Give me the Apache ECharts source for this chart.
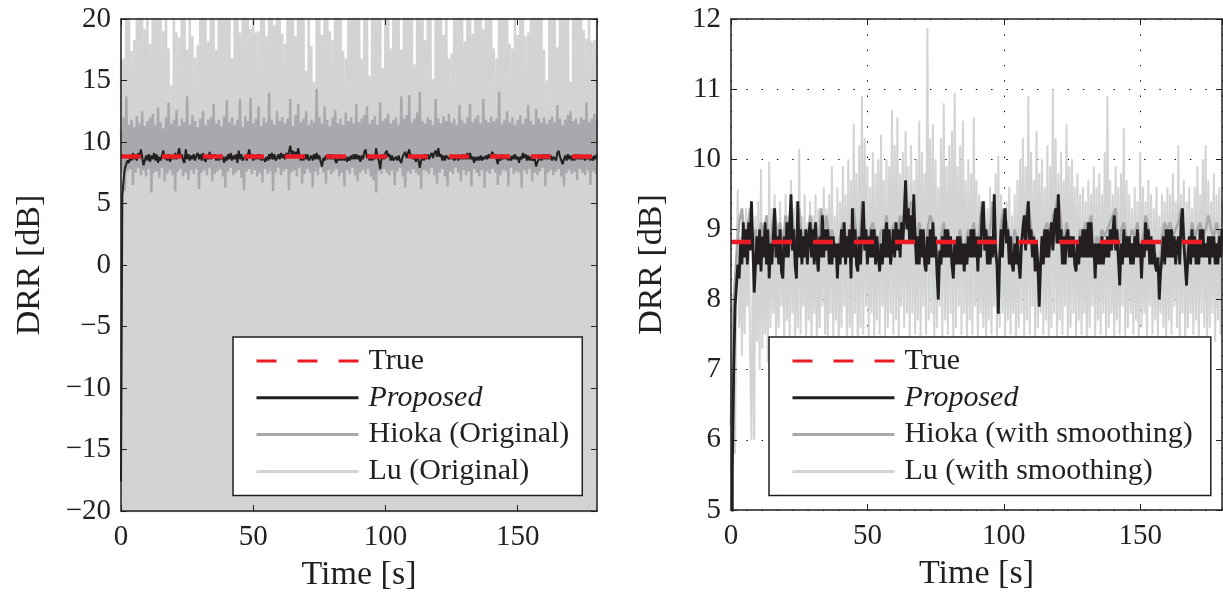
<!DOCTYPE html>
<html><head><meta charset="utf-8">
<script src="https://cdn.jsdelivr.net/npm/echarts@6/dist/echarts.min.js"></script>
<style>html,body{margin:0;padding:0;background:#fff}#c{width:1223px;height:595px}</style>
</head><body><div id="c"></div>
<script>
// ---------- data ----------
const xTickValues = [0, 50, 100, 150];
const trueDrr = 8.82;
const legendLeft = ['True', 'Proposed', 'Hioka (Original)', 'Lu (Original)'];
const legendRight = ['True', 'Proposed', 'Hioka (with smoothing)', 'Lu (with smoothing)'];

// Proposed estimate, one value every 0.5 s (t = 0 ... 180)
const proposed = [
-17.6,5.6,7.0,7.9,8.2,8.5,8.3,8.8,8.5,9.1,
8.6,9.0,8.5,9.1,8.7,9.4,8.8,8.1,8.5,8.9,
8.5,9.0,8.4,8.9,8.6,9.1,8.5,9.0,8.3,8.8,
8.5,8.9,9.3,8.6,8.9,8.5,9.0,8.4,8.3,8.9,
8.6,9.1,8.6,9.0,9.5,8.7,9.0,8.5,8.3,9.4,
8.6,9.0,8.5,8.9,8.6,9.0,8.5,8.9,9.1,8.6,
9.0,8.5,9.1,8.6,8.4,8.9,8.6,9.2,8.6,9.0,
8.7,9.0,8.5,8.9,8.5,8.9,8.6,8.8,8.3,8.8,
8.5,9.0,8.6,9.1,8.5,8.9,8.6,9.0,8.3,9.3,
8.6,9.0,8.5,8.4,8.9,8.5,9.0,9.4,8.7,9.0,
8.5,8.9,8.6,9.0,8.6,9.0,8.5,8.9,8.6,8.4,
8.8,8.5,9.0,8.6,9.1,8.6,9.0,8.5,8.7,9.0,
8.6,9.1,8.7,9.0,8.6,9.1,8.8,9.2,9.7,9.0,
9.3,8.8,9.2,8.8,9.5,8.9,8.5,8.9,8.5,9.0,
8.6,9.0,8.5,8.4,8.9,8.5,9.0,8.6,9.1,8.6,
8.9,8.4,8.0,8.7,8.5,8.9,8.6,9.0,8.6,9.0,
8.6,8.9,8.5,8.3,8.8,8.5,8.9,8.5,8.9,8.5,
8.8,8.4,8.8,8.5,8.9,8.6,9.0,8.6,9.0,8.6,
8.9,8.4,8.9,8.6,9.2,9.4,8.7,9.0,8.5,8.9,
8.5,8.9,8.6,9.5,8.7,8.5,7.8,8.6,9.0,8.6,
9.1,9.3,8.8,9.0,8.5,8.9,8.5,8.4,8.8,8.5,
8.9,8.5,8.3,8.8,9.0,9.2,8.7,9.1,9.4,8.8,
9.0,8.6,8.9,8.4,8.8,8.5,7.9,8.5,8.9,8.5,
9.0,8.6,9.0,8.6,8.9,9.1,8.7,9.1,9.3,8.8,
9.5,8.8,9.0,8.5,8.9,8.5,8.9,9.0,8.6,8.9,
8.6,8.9,8.5,8.4,8.8,8.5,8.9,8.6,9.0,8.6,
9.0,8.6,9.1,8.6,9.1,8.6,8.8,8.3,8.8,8.5,
8.8,8.5,8.9,8.5,8.8,8.6,8.9,8.6,9.0,8.7,
9.0,9.2,8.7,9.0,8.6,8.2,8.8,8.5,9.0,8.6,
8.9,8.6,8.9,8.5,8.8,8.5,8.9,8.6,9.0,8.6,
8.8,8.3,8.8,8.6,9.1,8.7,9.0,8.5,8.9,8.5,
8.8,8.5,8.4,8.6,8.0,8.4,8.6,8.9,8.5,9.0,
8.6,9.0,8.6,9.0,8.6,8.9,8.5,8.8,8.9,8.5,
9.1,9.3,8.8,8.5,8.2,8.6,8.9,8.5,9.0,8.6,
8.9,8.5,8.8,8.5,9.0,8.6,9.0,8.6,8.8,8.6,
8.9,8.5,8.9,8.6,8.9,8.5,8.8,8.5,8.9,8.6,
9.0];

// Hioka (with smoothing), one value per second
const hiokaSmooth = [
6.2,8.0,8.6,9.1,9.3,8.8,9.0,9.3,8.7,9.0,
8.6,9.1,8.9,9.2,8.5,9.0,9.3,8.8,9.1,8.7,
9.2,8.9,9.4,9.0,8.6,9.3,8.8,9.0,8.7,9.2,
8.9,9.1,8.7,9.3,9.0,9.2,8.8,9.0,8.7,8.6,
8.9,9.1,8.8,9.0,8.5,9.3,8.9,8.7,9.4,9.0,
8.8,9.0,9.1,8.9,8.6,9.0,8.9,9.2,8.8,9.0,
9.1,8.9,9.2,9.0,9.6,9.2,9.4,9.0,8.8,9.1,
8.9,8.6,9.0,9.2,9.1,8.7,8.3,8.9,9.1,8.8,
8.9,8.5,8.8,8.7,9.0,8.6,8.8,9.0,8.9,9.1,
8.7,9.0,9.4,9.1,8.8,9.0,9.4,8.9,8.2,9.1,
9.3,9.1,8.9,8.7,9.0,8.8,8.6,9.1,9.2,9.4,
9.0,8.9,8.7,8.3,8.8,9.0,9.1,8.9,9.2,9.3,
9.5,9.1,8.8,9.1,8.9,8.8,8.7,8.6,9.0,8.9,
9.1,9.0,9.2,8.6,8.9,8.8,9.0,8.9,9.0,9.1,
9.2,9.3,8.5,9.0,9.1,8.9,8.8,9.0,8.9,9.1,
8.6,8.9,9.2,9.0,8.8,8.7,8.6,8.3,8.9,9.1,
9.0,9.1,8.9,9.0,9.1,9.3,9.0,8.5,8.8,9.1,
8.9,9.0,9.1,8.9,9.0,9.2,9.0,8.9,9.1,8.9,
9.0];

// Lu (with smoothing), one value every 0.5 s
const luSmooth = [
6.5,5.6,7.8,5.8,8.6,9.57,7.6,8.9,7.2,9.1,
7.5,9.3,7.9,9.0,7.2,6.0,8.8,6.0,9.2,7.4,
9.4,7.0,9.86,7.3,9.0,7.5,9.2,7.1,9.96,7.6,
9.3,7.8,9.5,7.2,9.1,7.6,9.4,7.9,9.0,7.3,
9.5,7.7,9.2,7.4,9.7,7.8,9.3,7.2,9.4,7.6,
10.15,7.5,9.2,7.9,9.5,7.3,9.1,7.7,9.4,7.4,
9.2,7.8,9.5,7.2,9.3,7.6,9.1,7.9,9.6,7.5,
9.3,7.3,9.5,7.8,9.9,7.4,9.2,7.7,9.6,7.2,
9.4,7.6,9.9,7.9,9.5,7.3,10.0,7.6,9.7,7.4,
10.5,7.8,9.8,7.2,10.2,7.6,10.9,7.5,10.3,7.9,
9.9,7.4,9.6,7.8,10.1,7.3,9.8,7.7,10.0,7.5,
10.35,7.9,9.7,7.4,10.0,7.6,9.9,7.8,10.7,7.5,
10.2,7.7,10.6,7.3,9.8,7.9,10.1,7.6,10.4,7.8,
9.9,7.4,10.2,7.8,9.7,7.5,10.0,7.7,10.55,7.4,
10.1,7.9,9.8,7.5,11.87,7.7,10.3,7.8,10.5,7.3,
10.0,7.6,9.6,7.9,10.3,7.4,10.8,7.7,9.9,7.5,
10.2,7.8,10.4,7.3,10.95,7.6,9.9,7.9,10.2,7.5,
10.55,7.8,9.7,7.4,10.0,7.7,9.8,7.5,10.6,7.9,
9.7,7.3,9.5,7.8,9.2,7.6,9.4,7.4,9.3,7.7,
9.6,7.5,9.4,7.9,9.8,7.3,10.05,7.6,9.5,7.8,
9.3,7.4,9.4,7.7,9.6,7.5,9.2,7.8,9.5,7.3,
9.7,7.6,10.0,7.8,10.3,7.4,9.9,7.7,10.9,7.5,
10.1,7.9,9.7,7.4,10.4,7.6,9.8,7.8,10.0,7.5,
9.6,7.7,10.2,7.3,9.9,7.6,11.0,7.8,10.3,7.4,
9.8,7.7,10.1,7.5,9.7,7.9,10.5,7.3,9.9,7.6,
10.0,7.8,9.6,7.4,9.8,7.7,9.5,7.5,9.6,7.8,
9.4,7.3,9.7,7.6,9.5,7.9,9.9,7.4,9.6,7.7,
9.8,7.5,9.5,7.8,10.1,7.4,10.9,7.6,9.7,7.8,
9.5,7.3,9.9,7.7,9.6,7.5,9.8,7.9,10.45,7.4,
9.7,7.6,9.5,7.8,9.3,7.5,9.6,7.7,9.4,7.3,
10.1,7.6,9.6,7.8,9.4,7.4,9.7,7.9,9.5,7.5,
9.3,7.7,9.6,7.4,9.2,7.8,9.5,7.6,9.4,7.3,
9.6,7.7,9.5,7.5,9.8,7.9,9.4,7.6,10.2,7.4,
9.5,7.8,9.7,7.3,9.4,7.6,9.6,7.8,9.3,7.5,
9.6,7.7,9.9,7.4,9.5,7.8,10.0,7.6,10.2,7.3,
9.7,7.6,9.4,7.8,9.8,7.4,9.5,7.7,9.6,7.5,
9.4];

// Hioka (Original): per-second peaks (t = 0..180) and troughs (t = 0.5..179.5)
const hiokaOrigPeak = [
10.9,12.0,13.7,11.4,11.8,11.2,12.1,11.5,12.5,11.3,
11.7,12.0,12.3,11.4,12.8,11.6,11.1,12.0,13.2,11.5,
11.8,12.6,11.3,11.9,11.6,13.7,11.4,12.2,11.7,11.2,
11.9,12.5,11.4,11.8,12.0,13.1,11.5,11.8,11.3,12.1,
13.4,11.6,12.0,11.4,11.8,13.5,11.2,12.1,11.7,13.6,
11.5,11.9,12.9,11.3,12.0,11.6,14.0,11.8,11.4,12.5,
11.7,12.0,11.5,11.9,13.5,11.3,12.2,13.1,11.6,11.9,
12.5,11.4,11.8,11.6,14.3,12.0,11.5,12.9,11.8,11.3,
12.0,12.6,11.5,11.9,11.4,12.4,11.7,12.0,11.5,13.1,
11.6,11.9,12.2,12.9,11.5,11.8,12.1,11.4,13.2,11.7,
11.9,12.3,11.5,11.8,12.0,11.4,13.7,11.9,12.2,13.8,
11.6,11.9,12.4,14.1,11.7,11.5,12.0,11.8,11.4,13.5,
11.9,11.5,12.1,11.7,12.3,11.6,11.9,11.4,13.0,11.8,
11.5,12.0,13.1,11.6,11.9,12.2,11.5,13.5,11.8,11.6,
12.1,11.7,11.9,14.1,11.5,11.8,12.5,11.6,12.0,11.4,
11.8,12.2,11.5,11.9,13.0,11.7,11.4,12.7,11.9,11.6,
12.0,11.5,11.8,12.1,11.6,13.0,11.9,11.4,11.8,12.2,
12.5,11.7,11.9,11.5,12.0,11.8,13.2,11.6,11.9,12.3,
11.8];
const hiokaOrigTrough = [
7.4,6.0,7.6,7.8,6.5,7.5,7.9,7.3,7.7,7.2,
7.8,5.9,7.5,7.6,7.1,7.9,6.8,7.4,7.7,7.3,
6.0,7.6,7.8,7.2,7.5,6.9,7.7,7.4,7.8,6.2,
7.5,7.7,7.3,7.9,6.8,7.4,7.6,7.8,7.2,6.3,
7.6,7.9,7.3,7.5,7.7,7.1,6.1,7.6,7.8,7.4,
7.7,7.2,7.5,6.7,7.8,7.4,7.6,6.0,7.5,7.9,
7.3,7.6,7.8,6.1,7.5,7.7,7.2,7.9,6.6,7.4,
7.8,7.5,6.3,7.6,7.3,7.9,7.5,6.6,7.7,7.4,
7.6,7.8,7.2,7.5,6.4,7.7,7.4,7.9,7.3,6.8,
7.5,7.7,7.4,7.8,7.2,6.9,5.9,7.6,7.4,7.8,
7.5,7.3,7.7,6.5,7.6,7.9,7.2,6.3,7.6,7.4,
7.8,7.5,7.3,6.2,7.7,7.6,7.4,7.9,7.3,6.6,
7.5,7.8,7.2,6.4,7.6,7.4,7.9,7.5,6.8,7.7,
7.3,7.6,6.4,7.8,7.5,7.2,7.7,6.3,7.6,7.4,
7.8,7.5,6.5,7.3,7.7,7.6,6.4,7.9,7.4,7.6,
7.5,6.3,7.7,7.4,7.8,6.8,7.5,7.3,7.6,7.9,
6.4,7.5,7.7,7.3,7.6,7.8,7.2,6.4,7.5,7.7,
7.4,7.6,6.9,7.8,7.5,7.3,7.7,6.5,7.6,7.4];

// Lu (Original): per-second peaks (t = 0..180) and troughs (t = 0.5..179.5)
const luOrigPeak = [
16.7,16.8,24,27,17.4,18.3,25,29,22,19.2,
26,18.0,23,28,25,21,19.0,27,17.6,14.6,
24,18.9,18.5,26,30,17.5,23,18.6,16.9,17.9,
25,28,22,18.2,27,24,17.5,29,21,26,
23,27,16.8,25,28,18.9,22,26,24,19.2,
27,18.9,19.0,25,29,18.6,23,26,19.5,28,
24,18.8,18.0,27,22,25,18.6,29,23,26,
15.8,28,17.8,14.9,25,22,18.7,27,24,19.0,
18.3,26,23,28,17.4,16.8,25,21,27,24,
29,16.8,22,26,15.4,28,24,23,27,16.0,
25,28,17.6,22,26,29,17.5,24,27,23,
25,16.3,28,22,26,18.3,24,29,15.1,27,
23,26,18.7,28,16.8,17.2,25,22,27,24,
18.2,29,26,18.8,23,25,28,19.2,22,26,
24,17.6,16.8,27,29,23,25,18.0,17.6,26,
18.7,28,24,18.6,18.9,27,22,25,29,23,
17.5,15.0,26,28,24,17.7,27,22,25,29,
14.9,26,23,28,25,19.1,18.4,27,18.2,18.3,
24];
const luOrigTrough = [
-24,-31,-27,-35,-22,-29,-33,-26,-30,-23,
-34,-28,-25,-32,-27,-36,-23,-29,-31,-26,
-28,-33,-24,-30,-35,-27,-22,-31,-26,-29,
-32,-25,-30,-27,-34,-23,-29,-33,-26,-28,
-31,-24,-35,-28,-22,-30,-27,-33,-25,-29,
-26,-32,-28,-24,-31,-36,-27,-23,-30,-34,
-29,-25,-33,-27,-22,-31,-28,-35,-24,-30,
-27,-33,-26,-29,-32,-23,-28,-34,-25,-31,
-30,-24,-28,-35,-27,-22,-32,-26,-29,-33,
-25,-31,-27,-23,-30,-34,-28,-24,-33,-26,
-32,-27,-29,-36,-24,-30,-26,-31,-22,-28,
-33,-25,-30,-27,-35,-23,-29,-32,-26,-31,
-24,-28,-34,-27,-30,-25,-33,-22,-29,-31,
-27,-35,-24,-30,-26,-32,-28,-23,-31,-29,
-33,-26,-30,-25,-34,-28,-22,-31,-27,-24,
-29,-32,-26,-35,-28,-23,-30,-27,-33,-25,
-31,-24,-29,-27,-36,-30,-26,-32,-28,-22,
-30,-27,-33,-25,-29,-31,-24,-34,-28,-26];

// ---------- helpers ----------
function series05(arr){ return arr.map((v,i)=>[i*0.5, v]); }
function series1(arr){ return arr.map((v,i)=>[i, v]); }
function peakTrough(pk, tr){
  const out=[];
  for(let i=0;i<pk.length;i++){ out.push([i, pk[i]]); if(i<tr.length) out.push([i+0.5, tr[i]]); }
  return out;
}
const FONT='"Liberation Serif","Times New Roman",Times,serif';
const INK='#231f20';
const C_LU='#d1d3d4', C_HI='#a7a9ac', C_RED='#ed1c24';

const lineAx={show:true,onZero:false,lineStyle:{color:INK,width:1.5}};
const tickAx={show:true,inside:true,length:6,lineStyle:{color:INK,width:1}};
const dotted={show:true,lineStyle:{color:'#000',width:1,type:[1.4,13.9]}};
const minus=v=>String(v).replace('-','\u2212');

function xAxesFor(g, nameGap, grid){
  const b={type:'value',gridIndex:g,min:0,max:180,interval:50};
  const a=[
    Object.assign({},b,{position:'bottom',z:5,axisLine:lineAx,axisTick:tickAx,splitLine:{show:false},
      axisLabel:{show:true,margin:12,color:INK,fontFamily:FONT,fontSize:29,showMaxLabel:false,
        formatter:v=>xTickValues.indexOf(v)>=0?String(v):''},
      name:'Time [s]',nameLocation:'middle',nameGap:nameGap,
      nameTextStyle:{color:INK,fontFamily:FONT,fontSize:34}}),
    Object.assign({},b,{position:'top',z:5,axisLine:lineAx,axisTick:tickAx,axisLabel:{show:false},splitLine:{show:false}})
  ];
  if(grid) a.push(Object.assign({},b,{position:'bottom',z:0,axisLine:{show:false},axisTick:{show:false},axisLabel:{show:false},splitLine:dotted}));
  return a;
}
function yAxesFor(g, min, max, interval, nameGap, grid){
  const b={type:'value',gridIndex:g,min:min,max:max,interval:interval};
  const a=[
    Object.assign({},b,{position:'left',z:5,axisLine:lineAx,axisTick:tickAx,splitLine:{show:false},
      axisLabel:{show:true,margin:10,color:INK,fontFamily:FONT,fontSize:29,formatter:minus},
      name:'DRR [dB]',nameLocation:'middle',nameGap:nameGap,nameRotate:90,
      nameTextStyle:{color:INK,fontFamily:FONT,fontSize:34}}),
    Object.assign({},b,{position:'right',z:5,axisLine:lineAx,axisTick:tickAx,axisLabel:{show:false},splitLine:{show:false}})
  ];
  if(grid) a.push(Object.assign({},b,{position:'left',z:0,axisLine:{show:false},axisTick:{show:false},axisLabel:{show:false},splitLine:dotted}));
  return a;
}
function ln(name,x,y,data,color,width,extra){
  return Object.assign({type:'line',name:name,xAxisIndex:x,yAxisIndex:y,data:data,symbol:'none',showSymbol:false,
    silent:true,clip:true,animation:false,sampling:null,
    lineStyle:{color:color,width:width},itemStyle:{color:color}},extra||{});
}
const trueLine=[[0,trueDrr],[180,trueDrr]];
const dash={lineStyle:{color:C_RED,width:4.5,type:[20,21]}};

function legendFor(left, names, padRight){
  return {left:left,top:337,orient:'vertical',data:names,itemWidth:102,itemHeight:14,itemGap:6.8,
    padding:[9,padRight,9,22],backgroundColor:'#fff',borderColor:INK,borderWidth:1.5,borderRadius:0,z:10,
    selectedMode:false,lineStyle:{width:3},
    itemStyle:{color:'rgba(0,0,0,0)',borderWidth:0,opacity:0},
    formatter:n=>n==='Proposed'?'{it|Proposed}':n,
    textStyle:{color:INK,fontFamily:FONT,fontSize:30,lineHeight:30,padding:[0,0,0,5],
      rich:{it:{fontStyle:'italic',color:INK,fontFamily:FONT,fontSize:30,lineHeight:30}}}};
}

const option={
  backgroundColor:'#fff',animation:false,
  grid:[
    {left:121,top:19,width:476,height:492,containLabel:false,outerBoundsMode:'none'},
    {left:731,top:19,width:491,height:491,containLabel:false,outerBoundsMode:'none'}
  ],
  xAxis:[].concat(xAxesFor(0,47,false), xAxesFor(1,47,true)),
  yAxis:[].concat(yAxesFor(0,-20,20,5,74,false), yAxesFor(1,5,12,1,62,true)),
  legend:[legendFor(233,legendLeft,13), legendFor(769,legendRight,18)],
  series:[
    ln('Lu (Original)',0,0,peakTrough(luOrigPeak,luOrigTrough),C_LU,2.4),
    ln('Hioka (Original)',0,0,peakTrough(hiokaOrigPeak,hiokaOrigTrough),C_HI,2.4),
    ln('Proposed',0,0,series05(proposed),INK,2),
    ln('True',0,0,trueLine,C_RED,4.5,dash),
    ln('Lu (with smoothing)',2,2,series05(luSmooth),C_LU,2),
    ln('Hioka (with smoothing)',2,2,series1(hiokaSmooth),C_HI,2.6),
    ln('Proposed',2,2,series05(proposed),INK,2.8),
    ln('True',2,2,trueLine,C_RED,4.5,dash)
  ]
};
const chart=echarts.init(document.getElementById('c'),null,{renderer:'canvas'});
chart.setOption(option);
</script></body></html>
